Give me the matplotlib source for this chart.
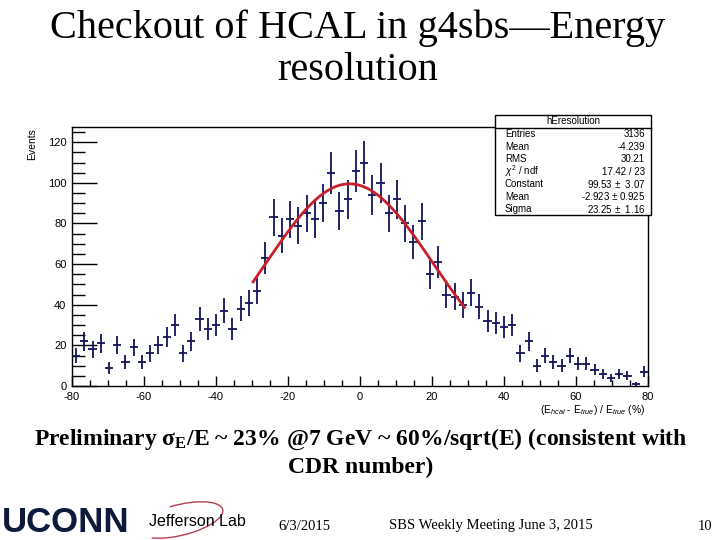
import numpy as np
import matplotlib
matplotlib.use("Agg")
import matplotlib.pyplot as plt
from matplotlib.patches import Rectangle, Arc
from matplotlib.lines import Line2D

# ---------------- data ----------------
bin_edges_range = (-80, 80)
n_bins = 70
counts = [15, 22, 18, 21, 9, 20, 12, 19, 12, 16,
          20, 24, 30, 16, 22, 33, 28, 30, 37, 28,
          38, 41, 47, 63, 83, 74, 82, 79, 85, 82,
          90, 105, 86, 92, 106, 110, 94, 100, 85, 92,
          80, 71, 81, 55, 61, 45, 44, 40, 46, 39,
          32, 31, 29, 30, 16, 22, 10, 15, 12, 10,
          15, 11, 11, 8, 6, 4, 6, 5, 1, 7]
fit_const = 99.53
fit_mean = -2.923
fit_sigma = 23.25
fit_range = (-29.7, 29.0)

stat_names = ["Entries", "Mean", "RMS", r"$\chi^2$ / ndf", "Constant", "Mean", "Sigma"]
stat_values = ["3136", "-4.239", "30.21", "17.42 / 23", "99.53 $\\pm$  3.07",
               "-2.923 $\\pm$ 0.925", "23.25 $\\pm$  1.16"]
hist_name = "hEresolution"

title_lines = ["Checkout of HCAL in g4sbs\u2014Energy", "resolution"]
caption_lines = [r"Preliminary $\mathbf{\sigma_E}$/E ~ 23% @7 GeV ~ 60%/sqrt(E) (consistent with",
                 "CDR number)"]
footer_date = "6/3/2015"
footer_meeting = "SBS Weekly Meeting June 3, 2015"
footer_page = "10"

# ---------------- figure ----------------
W, H = 720, 540
plt.rcParams['axes.unicode_minus'] = False
plt.rcParams['mathtext.fontset'] = 'custom'
plt.rcParams['mathtext.rm'] = 'Liberation Sans'
plt.rcParams['mathtext.it'] = 'Liberation Sans:italic'
plt.rcParams['mathtext.bf'] = 'Liberation Serif:bold'
fig = plt.figure(figsize=(7.2, 5.4), dpi=100)

def fx(x):
    return x / W

def fy(y):
    return 1 - y / H

ax_l, ax_r, ax_t, ax_b = 72, 648, 127, 386
ax = fig.add_axes([fx(ax_l), fy(ax_b), fx(ax_r) - fx(ax_l), fy(ax_t) - fy(ax_b)])

edges = np.linspace(bin_edges_range[0], bin_edges_range[1], n_bins + 1)
centers = 0.5 * (edges[:-1] + edges[1:])
binw = edges[1] - edges[0]
c = np.array(counts, dtype=float)
navy = "#14145a"
ax.errorbar(centers, c, xerr=binw / 2, yerr=np.sqrt(c), fmt='none',
            ecolor=navy, elinewidth=1.3, capsize=0, zorder=3)

xf = np.linspace(fit_range[0], fit_range[1], 300)
yf = fit_const * np.exp(-0.5 * ((xf - fit_mean) / fit_sigma) ** 2)
ax.plot(xf, yf, color="#c8202a", lw=2.0, zorder=4)

ax.set_xlim(-80, 80)
ax.set_ylim(0, 127.5)
ax.set_xticks(np.arange(-80, 81, 20))
ax.set_xticks(np.arange(-80, 81, 5), minor=True)
ax.set_yticks(np.arange(0, 121, 20))
ax.set_yticks(np.arange(0, 126, 5), minor=True)
ax.tick_params(axis='x', which='major', direction='in', length=7, width=1.0,
               labelsize=8, pad=4)
ax.tick_params(axis='x', which='minor', direction='in', length=4, width=1.0)
ax.tick_params(axis='y', which='major', direction='in', length=18, width=1.0,
               labelsize=8, pad=4)
ax.tick_params(axis='y', which='minor', direction='in', length=9, width=1.0)
for lab in ax.get_xticklabels() + ax.get_yticklabels():
    lab.set_family('Liberation Sans')
for s in ax.spines.values():
    s.set_linewidth(1.0)

fig.text(fx(32), fy(128), "Events", rotation=90, ha='center', va='top',
         fontsize=7.5, family='Liberation Sans')
fig.text(fx(645), fy(403), r"$(\mathrm{E}_{hcal}$ - $\mathrm{E}_{true})$ / $\mathrm{E}_{true}$ (%)",
         ha='right', va='top', fontsize=7.5, family='Liberation Sans')

# ---------------- stats box ----------------
bx0, bx1, by0, by1 = 495, 651, 115, 215
box = Rectangle((fx(bx0), fy(by1)), fx(bx1) - fx(bx0), fy(by0) - fy(by1),
                transform=fig.transFigure, facecolor='white', edgecolor='black',
                lw=1.0, zorder=10)
fig.add_artist(box)
fig.add_artist(Line2D([fx(bx0), fx(bx1)], [fy(128), fy(128)],
                      transform=fig.transFigure, color='black', lw=1.0, zorder=11))
fig.text(fx((bx0 + bx1) / 2), fy(121.5), hist_name, ha='center', va='center',
         fontsize=7, family='Liberation Sans', zorder=12)
row_y = [134, 146.5, 159, 171.5, 184, 196.5, 209]
for yy, nm, vv in zip(row_y, stat_names, stat_values):
    fig.text(fx(505), fy(yy), nm, ha='left', va='center', fontsize=7,
             family='Liberation Sans', zorder=12)
    fig.text(fx(645), fy(yy), vv, ha='right', va='center', fontsize=7,
             family='Liberation Sans', zorder=12)

# ---------------- slide texts ----------------
fig.text(fx(358), fy(28), title_lines[0], ha='center', va='center',
         fontsize=29, family='Liberation Serif')
fig.text(fx(358), fy(70), title_lines[1], ha='center', va='center',
         fontsize=29, family='Liberation Serif')
fig.text(fx(361), fy(439), caption_lines[0], ha='center', va='center',
         fontsize=17, family='Liberation Serif', weight='bold')
fig.text(fx(361), fy(467), caption_lines[1], ha='center', va='center',
         fontsize=17, family='Liberation Serif', weight='bold')

# footer
fig.text(fx(2), fy(522), "UCONN", ha='left', va='center', fontsize=25,
         family=['Liberation Sans Narrow', 'Liberation Sans'], weight='bold',
         color='#0e1a3c')
fig.text(fx(149), fy(522), "Jefferson Lab", ha='left', va='center', fontsize=11.5,
         family=['Liberation Sans Narrow', 'Liberation Sans'], color='black')
fig.add_artist(Arc((fx(180), fy(520)), fx(90), fy(505) - fy(535), angle=20,
                   theta1=-160, theta2=100, transform=fig.transFigure,
                   color='#b04050', lw=1.0))
fig.text(fx(278), fy(526), footer_date, ha='left', va='center', fontsize=10.5,
         family='Liberation Serif')
fig.text(fx(491), fy(526), footer_meeting, ha='center', va='center', fontsize=10.5,
         family='Liberation Serif')
fig.text(fx(712), fy(526), footer_page, ha='right', va='center', fontsize=10.5,
         family='Liberation Serif')

fig.savefig("out.png", dpi=100)
